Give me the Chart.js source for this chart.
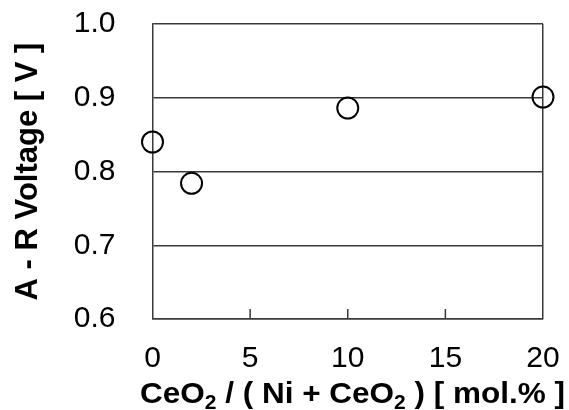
<!DOCTYPE html>
<html>
<head>
<meta charset="utf-8">
<script src="https://cdn.jsdelivr.net/npm/chart.js@4.4.1/dist/chart.umd.min.js"></script>
<style>
  body { margin: 0; background: #fff; }
  canvas { display: block; }
</style>
</head>
<body>
<canvas id="myChart" width="569" height="410"></canvas>
<script>
const FONT = "'Liberation Sans', Arial, sans-serif";

// CeO2 content [mol.%] and A-R voltage [V]
const ceo2 = [0, 2, 10, 20];
const voltage = [0.84, 0.784, 0.886, 0.901];
const xTicks = [0, 5, 10, 15, 20];
const yTicks = [0.6, 0.7, 0.8, 0.9, 1.0];

const ctx = document.getElementById("myChart");
const lineColor = "#3a3a3a";

// x title with subscripts, drawn under the axis
const xTitleParts = [
  { t: "CeO", sub: false },
  { t: "2", sub: true },
  { t: " / ( Ni + CeO", sub: false },
  { t: "2", sub: true },
  { t: " ) [ mol.% ]", sub: false },
];

const extras = {
  id: "extras",
  afterDraw(chart) {
    const c = chart.ctx;
    const xs = chart.scales.x;
    const area = chart.chartArea;
    c.save();
    // inward tick marks on the bottom axis
    c.strokeStyle = lineColor;
    c.lineWidth = 1.5;
    xTicks.slice(1, -1).forEach((v) => {
      const px = xs.getPixelForValue(v);
      c.beginPath();
      c.moveTo(px, area.bottom);
      c.lineTo(px, area.bottom - 10);
      c.stroke();
    });
    // x axis title, a little wider than the font like the original
    const big = "bold 30px " + FONT;
    const small = "bold 20px " + FONT;
    let total = 0;
    xTitleParts.forEach((p) => {
      c.font = p.sub ? small : big;
      total += c.measureText(p.t).width;
    });
    const sx = 425 / total;
    c.translate(352.5 - 425 / 2, 403);
    c.scale(sx, 1);
    let x = 0;
    c.fillStyle = "#000";
    c.textBaseline = "alphabetic";
    c.textAlign = "left";
    xTitleParts.forEach((p) => {
      c.font = p.sub ? small : big;
      c.fillText(p.t, x, p.sub ? 6 : 0);
      x += c.measureText(p.t).width;
    });
    c.restore();
  },
};

new Chart(ctx, {
  type: "scatter",
  data: {
    datasets: [
      {
        data: ceo2.map((v, i) => ({ x: v, y: voltage[i] })),
        pointStyle: "circle",
        pointRadius: 10.5,
        pointHoverRadius: 10.5,
        pointBorderWidth: 2,
        borderColor: "#000",
        backgroundColor: "rgba(255,255,255,0)",
        clip: false,
      },
    ],
  },
  options: {
    responsive: false,
    animation: false,
    layout: {
      padding: { left: 0, right: 26, top: 24, bottom: 0 },
    },
    plugins: {
      legend: { display: false },
      tooltip: { enabled: false },
    },
    scales: {
      x: {
        type: "linear",
        min: 0,
        max: 20,
        afterBuildTicks: (s) => {
          s.ticks = xTicks.map((v) => ({ value: v }));
        },
        afterFit: (s) => {
          s.height = 91;
          s.paddingLeft = 0;
          s.paddingRight = 0;
        },
        border: { display: true, color: lineColor, width: 1.5 },
        grid: {
          drawTicks: false,
          lineWidth: 1.5,
          color: (c) => (c.tick && c.tick.value === 20 ? lineColor : "rgba(0,0,0,0)"),
        },
        ticks: {
          color: "#000",
          padding: 22,
          maxRotation: 0,
          font: { family: FONT, size: 30 },
        },
      },
      y: {
        type: "linear",
        min: 0.6,
        max: 1.0,
        afterBuildTicks: (s) => {
          s.ticks = yTicks.map((v) => ({ value: v }));
        },
        afterFit: (s) => {
          s.width = 152.5;
          s.paddingTop = 0;
          s.paddingBottom = 0;
        },
        border: { display: true, color: lineColor, width: 1.5 },
        grid: {
          drawTicks: false,
          color: lineColor,
          lineWidth: 1.5,
        },
        ticks: {
          color: "#000",
          padding: 37,
          font: { family: FONT, size: 30 },
          callback: (v) => Number(v).toFixed(1),
        },
        title: {
          display: true,
          text: "A - R Voltage [ V ]",
          color: "#000",
          padding: { top: 10, bottom: 0 },
          font: { family: FONT, size: 31, weight: "bold" },
        },
      },
    },
  },
  plugins: [extras],
});
</script>
</body>
</html>
